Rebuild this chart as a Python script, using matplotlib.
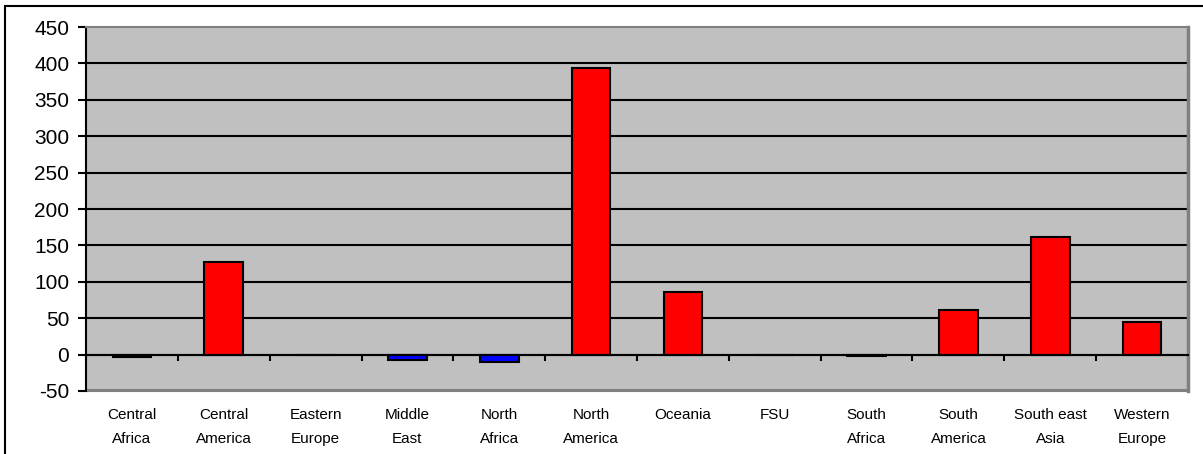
import matplotlib
matplotlib.use("Agg")
import matplotlib.pyplot as plt
import matplotlib.transforms as mtransforms
from matplotlib.patches import Rectangle

regions = ["Central\nAfrica", "Central\nAmerica", "Eastern\nEurope", "Middle\nEast",
           "North\nAfrica", "North\nAmerica", "Oceania", "FSU",
           "South\nAfrica", "South\nAmerica", "South east\nAsia", "Western\nEurope"]
values = [-3, 127, 0, -8, -10, 394, 86, 0, -2, 61, 162, 45]
yticks = [-50, 0, 50, 100, 150, 200, 250, 300, 350, 400, 450]

plt.rcParams["font.family"] = ["Liberation Sans", "DejaVu Sans"]

W, H = 1203, 454
fig = plt.figure(figsize=(W / 100, H / 100), dpi=100)
ax = fig.add_axes([86 / W, 1 - 391 / H, (1188 - 86) / W, 364 / H])
ax.set_facecolor("#c0c0c0")

# outer chart border
fig.add_artist(Rectangle((5 / W, -0.1), 1.2, (H - 6) / H + 0.1,
                         transform=fig.transFigure, fill=False,
                         edgecolor="black", linewidth=1.5))

x = list(range(len(regions)))
colors = ["red" if v >= 0 else "blue" for v in values]
ax.bar(x, values, width=0.42, color=colors, edgecolor="black", linewidth=1.5, zorder=3)

ax.set_ylim(-50, 450)
ax.set_xlim(-0.5, len(regions) - 0.5)
ax.set_yticks(yticks)
ax.set_yticklabels([str(t) for t in yticks], fontsize=15)
ax.tick_params(axis="y", length=6, width=1.5, pad=6, direction="out")
for t in yticks[1:-1]:
    ax.axhline(t, color="black", linewidth=1.5, zorder=1)

# category axis crosses at zero, ticks between categories
ax.spines["bottom"].set_position(("data", 0))
ax.spines["bottom"].set_linewidth(1.5)
ax.spines["bottom"].set_zorder(4)
ax.set_xticks([i - 0.5 for i in range(len(regions) + 1)])
ax.set_xticklabels([])
ax.tick_params(axis="x", length=4, width=1.5, direction="out")

ax.spines["left"].set_linewidth(1.5)
for s in ["top", "right"]:
    ax.spines[s].set_color("#808080")
    ax.spines[s].set_linewidth(1.5)
ax.spines["right"].set_linewidth(2.5)
ax.add_patch(Rectangle((0, 0), 1, 0.002, transform=ax.transAxes,
                       facecolor="#808080", edgecolor="#808080", linewidth=1.5,
                       clip_on=False, zorder=2))

trans = mtransforms.blended_transform_factory(ax.transData, fig.transFigure)
for i, lab in enumerate(regions):
    for k, line in enumerate(lab.split("\n")):
        ax.text(i, 1 - (419 + 24 * k) / H, line, transform=trans,
                ha="center", va="baseline", fontsize=11)

fig.savefig("out.png", dpi=100)
